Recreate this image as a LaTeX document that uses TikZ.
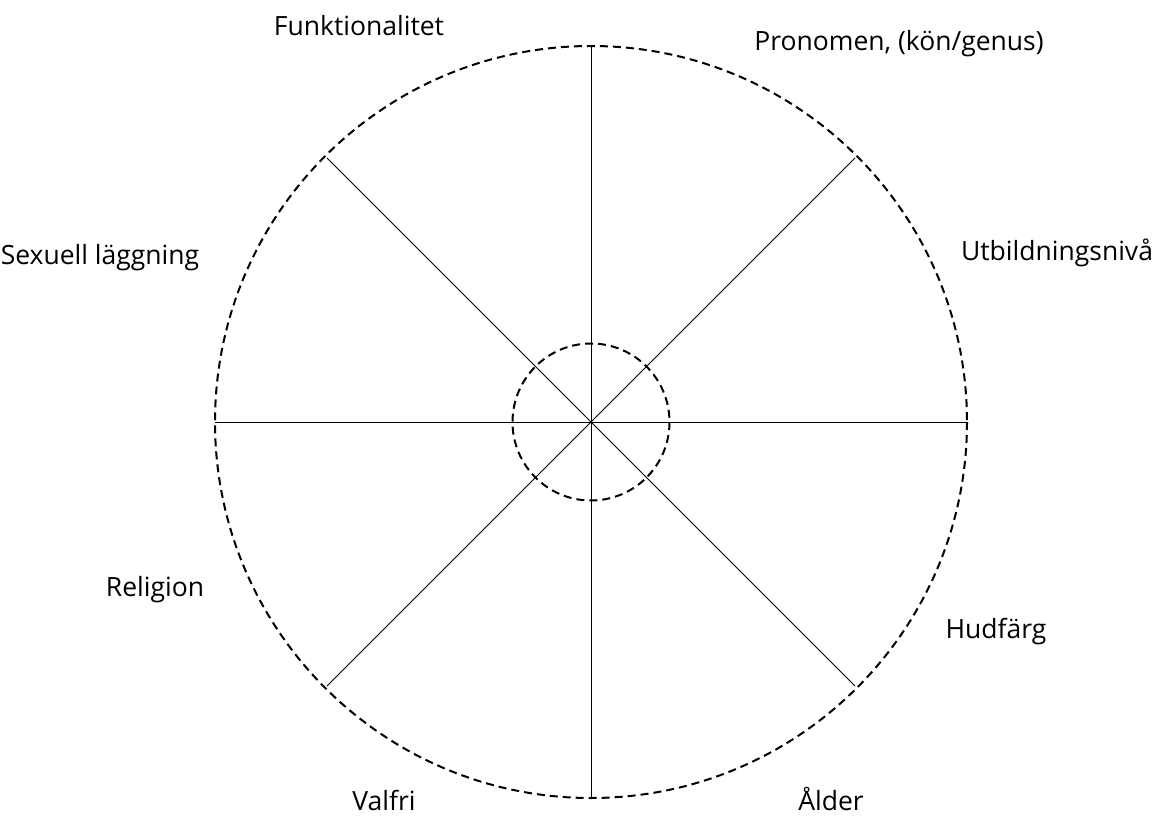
\documentclass[tikz,border=0pt]{standalone}
\usepackage{fontspec}
\setmainfont{Open Sans}
\begin{document}
\begin{tikzpicture}[x=1pt,y=-1pt,
  ring/.style={line width=2pt, dash pattern=on 8pt off 5pt},
  spoke/.style={line width=0.9pt},
  lbl/.style={font=\fontsize{26.5}{30}\selectfont, inner sep=0pt}]
\useasboundingbox (0,0) rectangle (1159,816);
\coordinate (c) at (591,422);
\coordinate (n) at (591,46);
\coordinate (s) at (591,798);
\coordinate (e) at (967,422);
\coordinate (w) at (215,422);
\coordinate (ne) at (855,158);
\coordinate (nw) at (327,158);
\coordinate (se) at (855,686);
\coordinate (sw) at (327,686);
\foreach \p in {n,s,e,w,ne,nw,se,sw} \draw[spoke] (c) -- (\p);
\draw[ring] (c) circle[radius=376];
\draw[ring] (c) circle[radius=78.5];
\node[lbl] (l1) at (359,26) {Funktionalitet};
\node[lbl] (l2) at (899,44) {Pronomen, (kön/genus)};
\node[lbl] (l3) at (100,258) {Sexuell läggning};
\node[lbl] (l4) at (1057,253) {Utbildningsnivå};
\node[lbl] (l5) at (155,590) {Religion};
\node[lbl] (l6) at (996,632) {Hudfärg};
\node[lbl] (l7) at (384,800) {Valfri};
\node[lbl] (l8) at (831,799) {Ålder};
\end{tikzpicture}
\end{document}
